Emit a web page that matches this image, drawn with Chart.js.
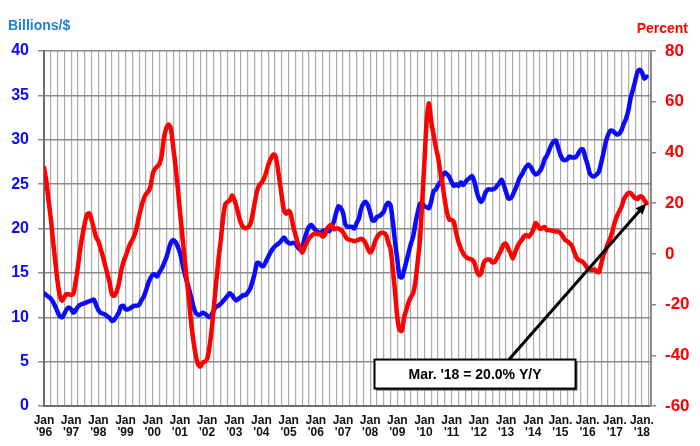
<!DOCTYPE html>
<html>
<head>
<meta charset="utf-8">
<script src="https://cdn.jsdelivr.net/npm/chart.js@4.4.1/dist/chart.umd.min.js"></script>
<style>
    body { margin: 0; background: #fff; }
    #chart { display: block; }
</style>
</head>
<body>
<canvas id="chart" width="700" height="446"></canvas>
<script>
//! ========================= Data ==========================

const startYear = 1996;

// year labels under the x axis, one per January
const tickLabels = [
    ['Jan', "'96"], ['Jan', "'97"], ['Jan', "'98"], ['Jan', "'99"], ['Jan', "'00"],
    ['Jan', "'01"], ['Jan', "'02"], ['Jan', "'03"], ['Jan', "'04"], ['Jan', "'05"],
    ['Jan', "'06"], ['Jan', "'07"], ['Jan', "'08"], ['Jan', "'09"], ['Jan', "'10"],
    ['Jan', "'11"], ['Jan', "'12"], ['Jan', "'13"], ['Jan', "'14"], ['Jan.', "'15"],
    ['Jan.', "'16"], ['Jan.', "'17"], ['Jan.', "'18"]
];

// monthly, Jan '96 .. Mar '18 (left axis)
const billions = [
    12.7, 12.5, 12.3, 12.1, 11.7, 11.2, 10.6, 10.1, 10.0, 10.4, 10.9, 11.1, // 96
    10.9, 10.5, 10.8, 11.2, 11.4, 11.5, 11.6, 11.7, 11.8, 11.9, 12.0, 11.4, // 97
    10.8, 10.5, 10.4, 10.3, 10.1, 9.9, 9.6, 9.7, 10.1, 10.5, 11.2, 11.3,    // 98
    10.9, 10.9, 11.0, 11.2, 11.3, 11.3, 11.4, 11.9, 12.3, 13.0, 13.8, 14.4, // 99
    14.8, 14.8, 14.6, 15.1, 15.5, 16.1, 16.7, 17.6, 18.4, 18.7, 18.5, 18.0, // 00
    17.3, 16.2, 15.0, 14.1, 13.2, 12.2, 11.2, 10.5, 10.3, 10.3, 10.5, 10.4, // 01
    10.2, 10.0, 10.3, 10.8, 11.2, 11.3, 11.5, 11.8, 12.1, 12.4, 12.7, 12.5, // 02
    12.1, 11.9, 12.1, 12.3, 12.5, 12.5, 12.8, 13.2, 14.0, 14.9, 16.1, 16.1, // 03
    15.8, 15.8, 16.3, 16.8, 17.3, 17.7, 18.0, 18.2, 18.4, 18.7, 19.0, 18.6, // 04
    18.4, 18.3, 18.4, 18.3, 17.9, 17.6, 17.9, 18.8, 19.6, 20.2, 20.4, 20.1, // 05
    19.8, 19.6, 19.5, 19.7, 19.8, 19.8, 19.7, 20.2, 20.8, 21.8, 22.5, 22.3, // 06
    21.8, 20.5, 20.2, 20.2, 20.2, 20.0, 20.6, 21.1, 22.2, 22.8, 23.0, 22.6, // 07
    21.8, 20.9, 20.9, 21.3, 21.4, 21.6, 21.9, 22.6, 22.9, 22.6, 20.8, 18.5, // 08
    16.5, 14.6, 14.5, 15.3, 16.3, 17.3, 18.3, 19.1, 20.6, 21.8, 22.8, 22.8, // 09
    22.5, 22.4, 22.3, 23.1, 24.2, 24.4, 24.9, 25.2, 26.0, 26.3, 26.1, 25.8, // 10
    25.2, 24.8, 25.0, 24.8, 25.2, 24.9, 25.2, 25.5, 25.7, 25.9, 25.3, 24.2, // 11
    23.4, 23.0, 23.4, 24.1, 24.4, 24.4, 24.4, 24.5, 24.8, 25.1, 25.5, 24.9, // 12
    24.1, 23.4, 23.4, 23.8, 24.4, 25.0, 25.7, 26.1, 26.6, 27.0, 27.2, 26.9, // 13
    26.4, 26.1, 26.2, 26.5, 27.0, 27.8, 28.2, 28.8, 29.4, 29.8, 29.9, 29.1, // 14
    28.3, 27.8, 27.7, 27.8, 28.1, 28.0, 28.0, 28.1, 28.5, 28.9, 28.9, 28.0, // 15
    27.2, 26.2, 25.9, 25.9, 26.1, 26.4, 27.4, 28.5, 29.7, 30.5, 31.0, 31.0, // 16
    30.8, 30.6, 30.7, 31.1, 31.8, 32.4, 33.3, 34.7, 35.6, 36.6, 37.6, 37.9, // 17
    37.6, 36.9, 37.1                                                        // 18
];

// monthly year/year change, percent (right axis)
const percent = [
    34, 29, 21, 14, 5, -3, -11, -16.5, -18.5, -17, -15.8, -16,              // 96
    -16.2, -15.6, -11, -5, 2, 7.5, 12, 15.5, 16, 13.4, 10, 6.5,             // 97
    5, 2, -1, -4.5, -8, -11.5, -16, -16.5, -15, -12, -7, -3.5,              // 98
    -1, 1.5, 3.9, 5.5, 7.5, 10.7, 15, 18.5, 21.5, 23.6, 24.5, 26.5,         // 99
    31.5, 33.5, 34.5, 35.5, 39, 46, 49.5, 51, 49.5, 42.5, 35, 26.5,         // 00
    17, 8, -1, -10, -18, -27.5, -34.5, -40, -43.5, -44.5, -43, -42.5,       // 01
    -41.5, -37, -30, -21, -11.5, -2.5, 5, 13.5, 19.5, 20.5, 21, 23,         // 02
    21.5, 18.5, 15, 12, 10.5, 10.1, 10.5, 11.5, 15, 20, 24.5, 27,           // 03
    28, 29.5, 31.8, 35, 37.2, 39, 39, 35, 29, 22.5, 17, 15.8,               // 04
    17, 15.5, 11, 7.5, 4.5, 2.5, 0.5, 2.5, 4.5, 6.1, 7, 7.8,                // 05
    8.1, 7.7, 7.8, 6.8, 7.5, 10, 11, 11.5, 9.7, 10, 10, 9.5,                // 06
    8.5, 7, 5.8, 5.5, 5.3, 5, 5.2, 5.6, 6, 5.5, 4.2, 2,                     // 07
    0.5, 1.8, 4.5, 6.5, 7.8, 8.3, 8.2, 7.5, 4.5, 2, -6, -15,                // 08
    -25, -30, -30.3, -25, -22, -19, -17, -15.5, -11, -3, 5.5, 21,           // 09
    37, 53, 59.4, 52, 47, 42, 38, 32, 27, 21, 16, 13.5,                     // 10
    13.4, 12.5, 8.1, 4.7, 2.2, 0.3, -1, -1.6, -2, -2.3, -3.5, -6.6,         // 11
    -8.4, -7.6, -4, -2.5, -2.2, -2.3, -3.4, -3.1, -1.8, 0, 1.8, 3.8,        // 12
    4, 2, 0.2, -1.8, 0.6, 2.8, 4.5, 5.5, 7.0, 7.3, 6.8, 7.8,                // 13
    9.5, 12.1, 11.3, 9.8, 10.1, 10.6, 9.4, 9.4, 9.2, 9.0, 8.8, 8.8,         // 14
    8.2, 7.0, 5.6, 5.0, 4.2, 3.3, 1.0, -1.2, -2.4, -2.7, -3.3, -4.4,        // 15
    -5.6, -6.2, -6.3, -6.1, -7, -7.2, -4, -0.5, 1.5, 4.2, 6.1, 9.0,         // 16
    12.5, 15, 16.8, 18.6, 21.5, 23, 24, 23.9, 23, 22, 21.6, 22.6,           // 17
    22.5, 21.2, 20.0                                                        // 18
];

const calloutText = "Mar. '18 = 20.0% Y/Y";

//! ===================== Styling =====================================

const BLUE = '#0a0aff';
const RED = '#ff0000';
const FONT = 'Liberation Sans, Arial, sans-serif';

// where the callout box sits (month index / left axis value) and where its arrow leaves
const calloutAt = { month: 190.3, level: 3.6, w: 201, h: 29, arrowFrom: 205.3 };

//! ===================== Plugins =====================================

const axisTitles = {
    id: 'axisTitles',
    afterDraw(chart) {
        const ctx = chart.ctx;
        ctx.save();
        ctx.font = `bold 14px ${FONT}`;
        ctx.textBaseline = 'alphabetic';
        ctx.fillStyle = '#1f7fd6';
        ctx.textAlign = 'left';
        ctx.fillText('Billions/$', 8, 30);
        ctx.fillStyle = RED;
        ctx.textAlign = 'right';
        ctx.fillText('Percent', 688, 33);
        ctx.restore();
    }
};

const callout = {
    id: 'callout',
    afterDatasetsDraw(chart) {
        const { ctx, scales } = chart;
        const cx = scales.x.getPixelForValue(calloutAt.month);
        const cy = scales.y.getPixelForValue(calloutAt.level);
        const left = cx - calloutAt.w / 2;
        const top = cy - calloutAt.h / 2;

        // arrow: from the box to the last percent point
        const last = percent.length - 1;
        const x0 = scales.x.getPixelForValue(calloutAt.arrowFrom);
        const y0 = top;
        const x1 = scales.x.getPixelForValue(last);
        const y1 = scales.y1.getPixelForValue(percent[last]);
        const ang = Math.atan2(y1 - y0, x1 - x0);
        const head = 12;

        ctx.save();
        ctx.strokeStyle = '#000';
        ctx.fillStyle = '#000';
        ctx.lineWidth = 3;
        ctx.beginPath();
        ctx.moveTo(x0, y0);
        ctx.lineTo(x1 - Math.cos(ang) * head * 0.8, y1 - Math.sin(ang) * head * 0.8);
        ctx.stroke();
        ctx.beginPath();
        ctx.moveTo(x1, y1);
        ctx.lineTo(x1 - head * Math.cos(ang - 0.4), y1 - head * Math.sin(ang - 0.4));
        ctx.lineTo(x1 - head * Math.cos(ang + 0.4), y1 - head * Math.sin(ang + 0.4));
        ctx.closePath();
        ctx.fill();

        // box
        ctx.fillStyle = '#555';
        ctx.fillRect(left + 2, top + 2, calloutAt.w, calloutAt.h);
        ctx.fillStyle = '#fff';
        ctx.fillRect(left, top, calloutAt.w, calloutAt.h);
        ctx.lineWidth = 2;
        ctx.strokeRect(left, top, calloutAt.w, calloutAt.h);

        ctx.fillStyle = '#000';
        ctx.font = `bold 14px ${FONT}`;
        ctx.textAlign = 'center';
        ctx.textBaseline = 'middle';
        ctx.fillText(calloutText, cx, cy + 1);
        ctx.restore();
    }
};

//! ===================== Chart =======================================

const toPoints = arr => arr.map((v, i) => ({ x: i, y: v }));

const ctx = document.getElementById('chart').getContext('2d');

new Chart(ctx, {
    type: 'line',
    data: {
        datasets: [
            {
                label: 'Percent',
                data: toPoints(percent),
                yAxisID: 'y1',
                borderColor: RED,
                borderWidth: 4.5,
                pointRadius: 0,
                tension: 0.3,
                borderJoinStyle: 'round',
                borderCapStyle: 'round'
            },
            {
                label: 'Billions/$',
                data: toPoints(billions),
                yAxisID: 'y',
                borderColor: BLUE,
                borderWidth: 4.5,
                pointRadius: 0,
                tension: 0.3,
                borderJoinStyle: 'round',
                borderCapStyle: 'round'
            }
        ]
    },
    options: {
        responsive: false,
        animation: false,
        devicePixelRatio: 1,
        layout: { padding: { top: 51, left: 0, right: 0, bottom: 0 } },
        plugins: {
            legend: { display: false },
            tooltip: { enabled: false }
        },
        scales: {
            x: {
                type: 'linear',
                min: 0,
                max: 268,
                afterBuildTicks: scale => {
                    const ticks = [];
                    for (let m = 0; m <= 267; m += 3) ticks.push({ value: m });
                    scale.ticks = ticks;
                },
                afterFit: scale => { scale.height = 40; },
                grid: { color: '#ababab', lineWidth: 1.2, drawTicks: false },
                border: { color: '#6e6e6e', width: 2 },
                ticks: {
                    autoSkip: false,
                    maxRotation: 0,
                    padding: 8,
                    color: '#111',
                    font: { family: FONT, size: 12, weight: 'bold', lineHeight: 1.05 },
                    callback: v => (v % 12 === 0 ? tickLabels[v / 12] : '')
                }
            },
            y: {
                position: 'left',
                min: 0,
                max: 40,
                afterFit: scale => { scale.width = 44; },
                grid: { color: '#8a8a8a', lineWidth: 1.5, tickLength: 6 },
                border: { color: '#6e6e6e', width: 2 },
                ticks: {
                    stepSize: 5,
                    padding: 9,
                    color: BLUE,
                    font: { family: FONT, size: 16, weight: 'bold' }
                }
            },
            y1: {
                position: 'right',
                min: -60,
                max: 80,
                afterFit: scale => { scale.width = 49; },
                grid: { drawOnChartArea: false, color: '#8a8a8a', lineWidth: 1.5, tickLength: 5 },
                border: { color: '#8a8a8a', width: 2 },
                ticks: {
                    stepSize: 20,
                    padding: 9,
                    color: RED,
                    font: { family: FONT, size: 17, weight: 'bold' }
                }
            }
        }
    },
    plugins: [axisTitles, callout]
});
</script>
</body>
</html>
